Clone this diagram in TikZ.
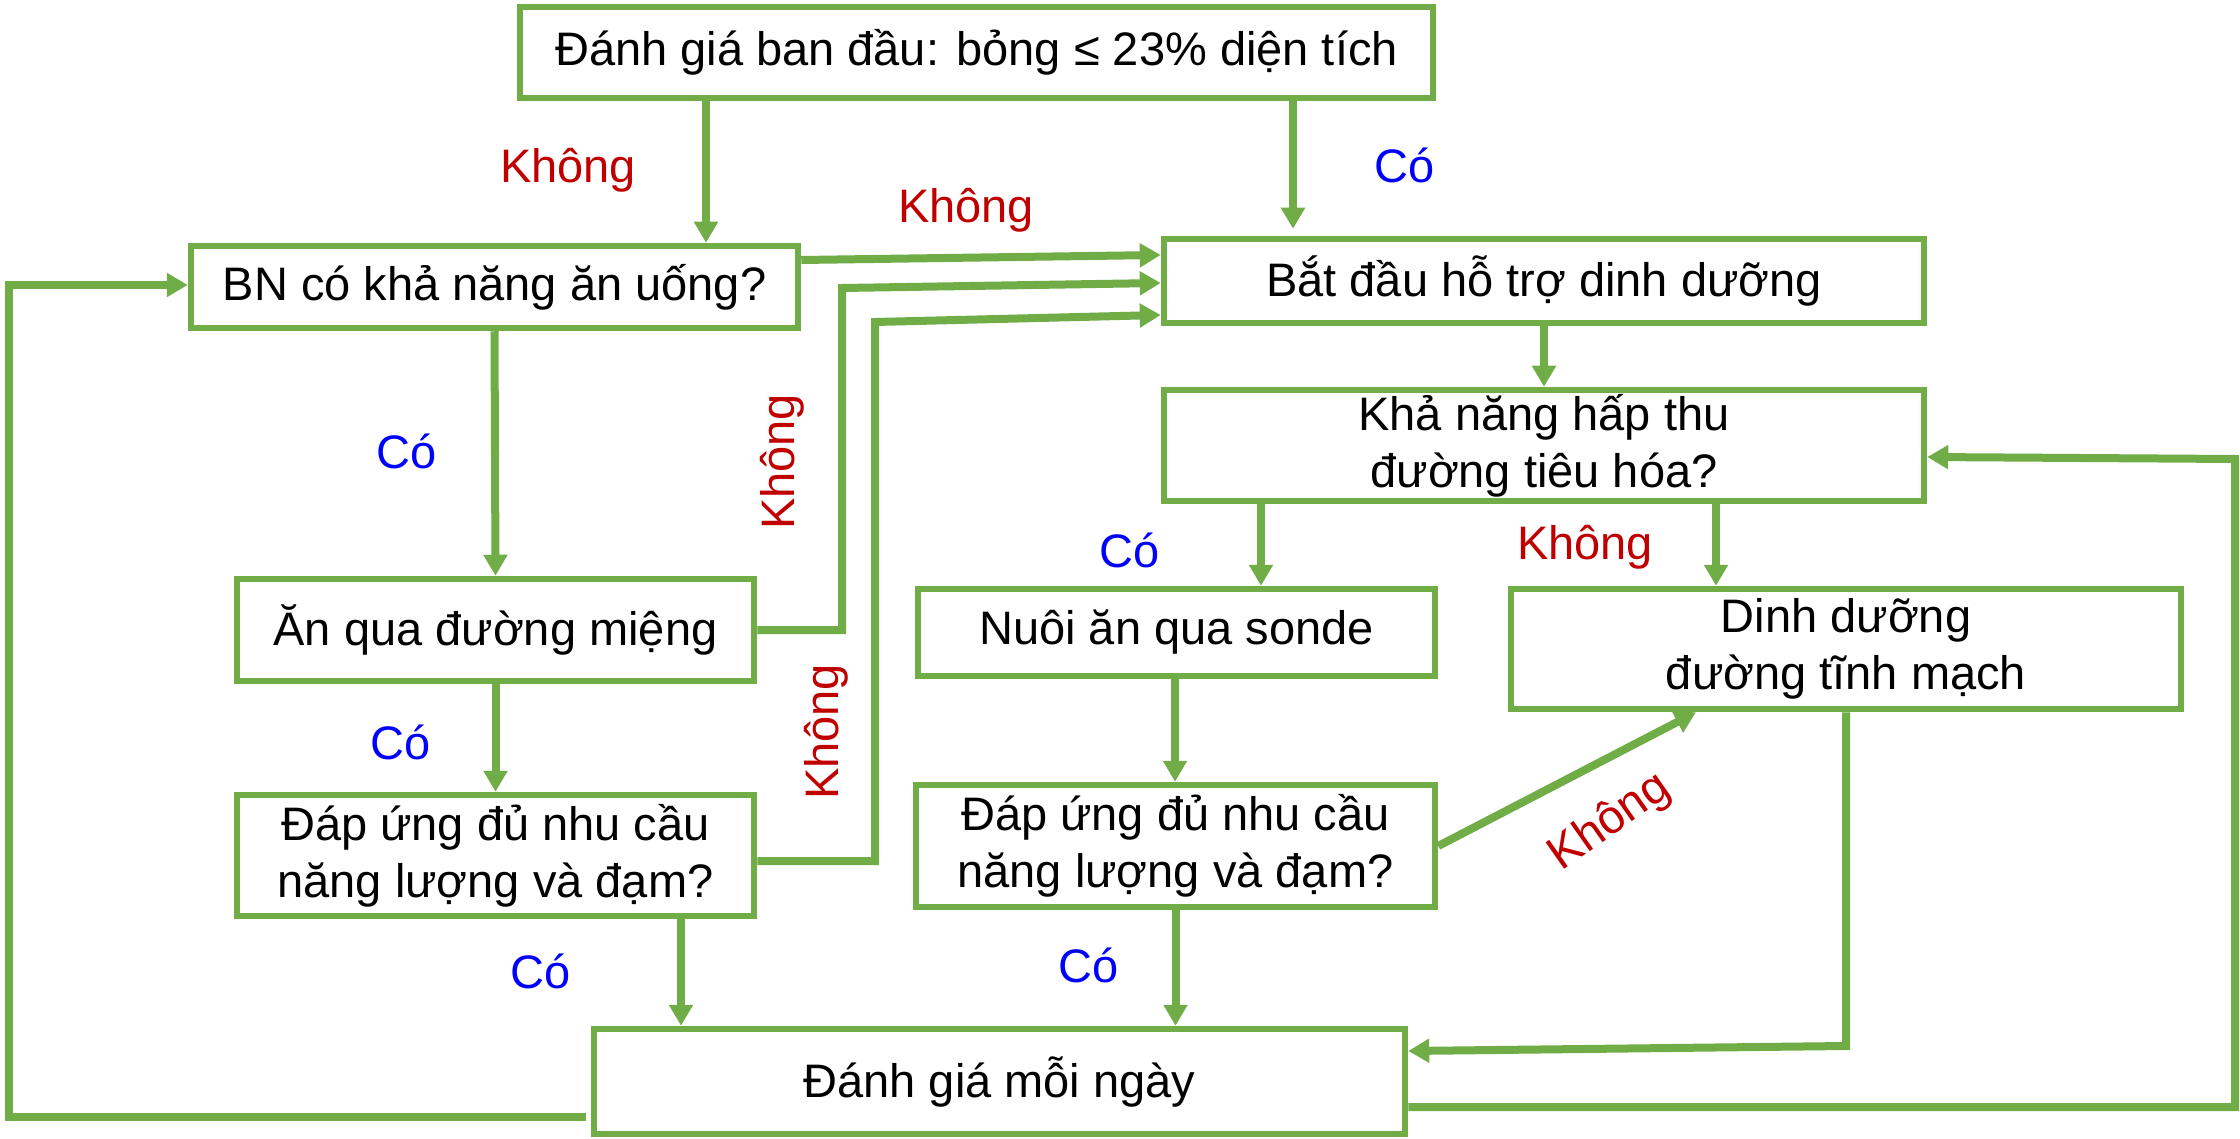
\documentclass[tikz,border=0pt]{standalone}
\usepackage{fontspec}
\setmainfont{Liberation Sans}
\usetikzlibrary{arrows.meta}
\definecolor{grn}{HTML}{70AD47}
\definecolor{redt}{HTML}{C00000}
\definecolor{bluet}{HTML}{0000FF}
\begin{document}
\begin{tikzpicture}[x=1pt,y=-1pt,
  box/.style={draw=grn, line width=6.5pt, fill=white, align=center, inner sep=0pt,
    font=\fontsize{47}{57}\selectfont},
  conn/.style={draw=grn, line width=8pt, -{Triangle[length=21pt,width=23pt]}},
  tconn/.style={conn, line width=8pt},
  no/.style={text=redt, inner sep=0pt, font=\fontsize{47}{57}\selectfont},
  yes/.style={text=bluet, inner sep=0pt, font=\fontsize{47}{57}\selectfont}
]
\useasboundingbox[fill=white] (0,0) rectangle (2240,1139);

% boxes
\node[box, minimum width=913pt, minimum height=91pt] (top) at (976.5,52.5) {Đánh giá ban đầu: bỏng ≤ 23\% diện tích};
\node[box, minimum width=607pt, minimum height=82pt] (bn) at (494.5,287) {BN có khả năng ăn uống?};
\node[box, minimum width=760pt, minimum height=84pt] (start) at (1544,281) {Bắt đầu hỗ trợ dinh dưỡng};
\node[box, minimum width=760pt, minimum height=111pt] (kha) at (1544,445.5) {Khả năng hấp thu\\đường tiêu hóa?};
\node[box, minimum width=517pt, minimum height=102pt] (an) at (495.5,630) {Ăn qua đường miệng};
\node[box, minimum width=517pt, minimum height=87pt] (nuoi) at (1176.5,632.5) {Nuôi ăn qua sonde};
\node[box, minimum width=670pt, minimum height=120pt] (dinh) at (1846,649) {Dinh dưỡng\\đường tĩnh mạch};
\node[box, minimum width=517pt, minimum height=121pt] (dapL) at (495.5,855.5) {Đáp ứng đủ nhu cầu\\năng lượng và đạm?};
\node[box, minimum width=519pt, minimum height=122pt] (dapR) at (1175.5,846) {Đáp ứng đủ nhu cầu\\năng lượng và đạm?};
\node[box, minimum width=811pt, minimum height=105pt] (daily) at (999.5,1081.5) {Đánh giá mỗi ngày};

% connectors
\draw[conn] (top.south -| 706,0) -- (bn.north -| 706,0);
\draw[conn, shorten >=7pt] (top.south -| 1293,0) -- (start.north -| 1293,0);
\draw[tconn] (bn.east |- 0,260) -- (start.west |- 0,255);
\draw[tconn] (an.east) -- (842,630) -- (842,288) -- (start.west |- 0,283);
\draw[tconn] (dapL.east |- 0,861) -- (875,861) -- (875,322) -- (start.west |- 0,315);
\draw[conn] (bn.south) -- (an.north);
\draw[conn] (an.south) -- (dapL.north);
\draw[conn] (dapL.south -| 681,0) -- (daily.north -| 681,0);
\draw[conn] (start.south) -- (kha.north);
\draw[conn] (kha.south -| 1261,0) -- (nuoi.north -| 1261,0);
\draw[conn] (kha.south -| 1716,0) -- (dinh.north -| 1716,0);
\draw[conn] (nuoi.south -| 1175,0) -- (dapR.north -| 1175,0);
\draw[conn] (dapR.south) -- (daily.north -| dapR.south);
\draw[tconn] (dapR.east) -- (dinh.south -| 1696,0);
\draw[tconn] (dinh.south) -- (1846,1046) -- (daily.east |- 0,1051);
\draw[tconn] (daily.east |- 0,1107) -- (2235,1107) -- (2235,459) -- (kha.east |- 0,457);
\draw[tconn, shorten <=5pt] (daily.west |- 0,1117) -- (9,1117) -- (9,285) -- (bn.west |- 0,285);

% labels
\node[no, anchor=base] (l1) at (568,183) {Không};
\node[no, anchor=base] (l2) at (966,223) {Không};
\node[yes, anchor=base] (l3) at (1405,183) {Có};
\node[yes, anchor=base] (l4) at (407,468) {Có};
\node[no, rotate=90] (l5) at (782,462) {Không};
\node[no, rotate=90] (l6) at (826,732) {Không};
\node[yes, anchor=base] (l7) at (1130,567) {Có};
\node[no, anchor=base] (l8) at (1585,559) {Không};
\node[yes, anchor=base] (l9) at (401,759) {Có};
\node[yes, anchor=base] (l10) at (541,988) {Có};
\node[yes, anchor=base] (l11) at (1089,982) {Có};
\node[no, rotate=35] (l12) at (1610,822) {Không};
\end{tikzpicture}
\end{document}
